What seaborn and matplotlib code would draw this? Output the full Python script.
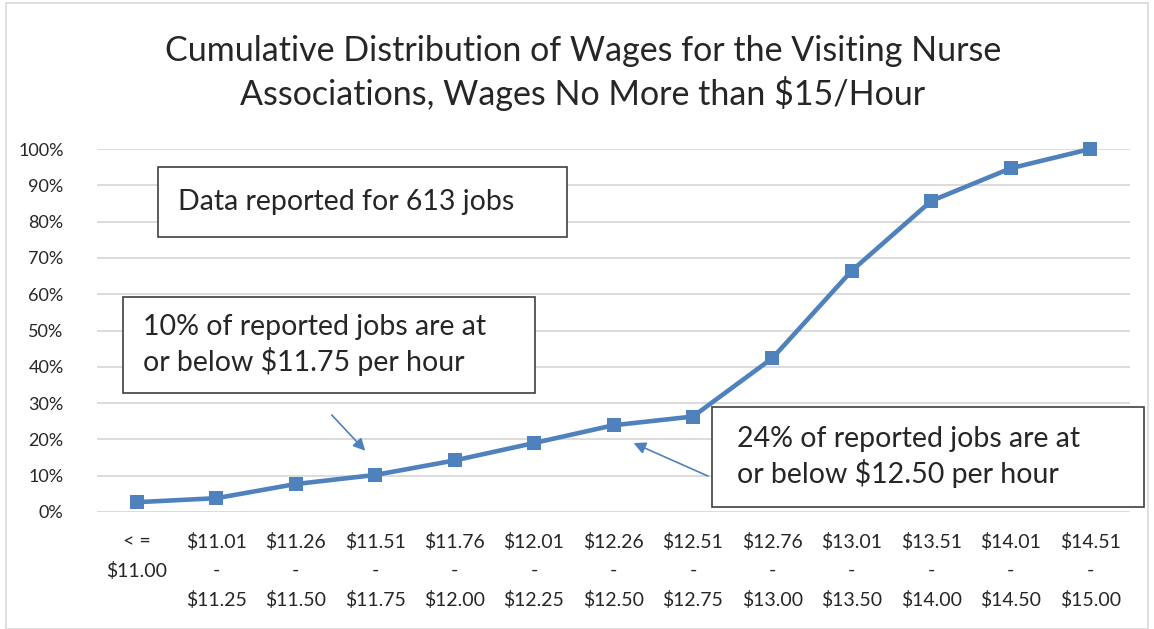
import matplotlib
matplotlib.use("Agg")
import matplotlib.pyplot as plt
import seaborn as sns
import pandas as pd
from matplotlib.patches import Rectangle
from matplotlib.ticker import PercentFormatter

# wage bands and cumulative share of jobs
bands = ["< =\n$11.00", "$11.01\n-\n$11.25", "$11.26\n-\n$11.50", "$11.51\n-\n$11.75",
         "$11.76\n-\n$12.00", "$12.01\n-\n$12.25", "$12.26\n-\n$12.50", "$12.51\n-\n$12.75",
         "$12.76\n-\n$13.00", "$13.01\n-\n$13.50", "$13.51\n-\n$14.00", "$14.01\n-\n$14.50",
         "$14.51\n-\n$15.00"]
cum_pct = [2.7, 3.8, 7.7, 10.2, 14.2, 19.0, 23.9, 26.3, 42.4, 66.5, 85.7, 94.7, 100.0]

df = pd.DataFrame({"pos": range(len(bands)), "pct": cum_pct})

sns.set_style("white")
plt.rcParams['font.family'] = ['Lato', 'DejaVu Sans']

W, H = 1154, 629
fig = plt.figure(figsize=(W / 100, H / 100), dpi=100)
ax = fig.add_axes([97 / W, 1 - 512 / H, 1033 / W, 363 / H])

blue = "#4F81BD"
sns.lineplot(data=df, x="pos", y="pct", ax=ax, color=blue, linewidth=3.3,
             marker="s", markersize=10, markeredgewidth=0, clip_on=False)

ax.set_xlim(-0.5, len(bands) - 0.5)
ax.set_ylim(0, 100)
ax.set_yticks(range(0, 101, 10))
ax.yaxis.set_major_formatter(PercentFormatter(decimals=0))
ax.set_xticks(range(len(bands)))
ax.set_xticklabels(bands, fontsize=14, linespacing=1.8, va="top")
ax.tick_params(axis="x", length=0, pad=15)
ax.tick_params(axis="y", length=0, pad=24, labelsize=13)
for lbl in ax.get_yticklabels():
    lbl.set_horizontalalignment("right")
ax.grid(axis="y", color="#D9D9D9", linewidth=1.3)
ax.set_axisbelow(True)
for s in ax.spines.values():
    s.set_visible(False)
ax.set_xlabel("")
ax.set_ylabel("")

fig.text(583 / W, 1 - 73 / H,
         "Cumulative Distribution of Wages for the Visiting Nurse\nAssociations, Wages No More than $15/Hour",
         ha="center", va="center", fontsize=24.5, linespacing=1.3)

# outer frame
fig.add_artist(Rectangle((6 / W, 0), (W - 12) / W, 1 - 3 / H, transform=fig.transFigure,
                         fill=False, edgecolor="#D9D9D9", linewidth=1.2))


def box(x0, y0, x1, y1, text, tx):
    fig.add_artist(Rectangle((x0 / W, 1 - y1 / H), (x1 - x0) / W, (y1 - y0) / H,
                             transform=fig.transFigure, facecolor="white",
                             edgecolor="#404040", linewidth=1.2, zorder=5))
    fig.text(tx / W, 1 - (y0 + y1) / 2 / H, text, ha="left", va="center",
             fontsize=20.5, linespacing=1.3, zorder=6)


box(158, 167, 567, 237, "Data reported for 613 jobs", 178)
box(123, 297, 535, 393, "10% of reported jobs are at\nor below $11.75 per hour", 143)
box(712, 407, 1144, 507, "24% of reported jobs are at\nor below $12.50 per hour", 737)

arrow = dict(arrowstyle="-|>", color=blue, lw=1.2, mutation_scale=18)
ax.annotate("", xy=(2.9, 16.3), xytext=(2.43, 27.3), arrowprops=arrow)
ax.annotate("", xy=(6.22, 19.3), xytext=(7.22, 9.6), arrowprops=arrow)

fig.savefig("out.png", dpi=100)
